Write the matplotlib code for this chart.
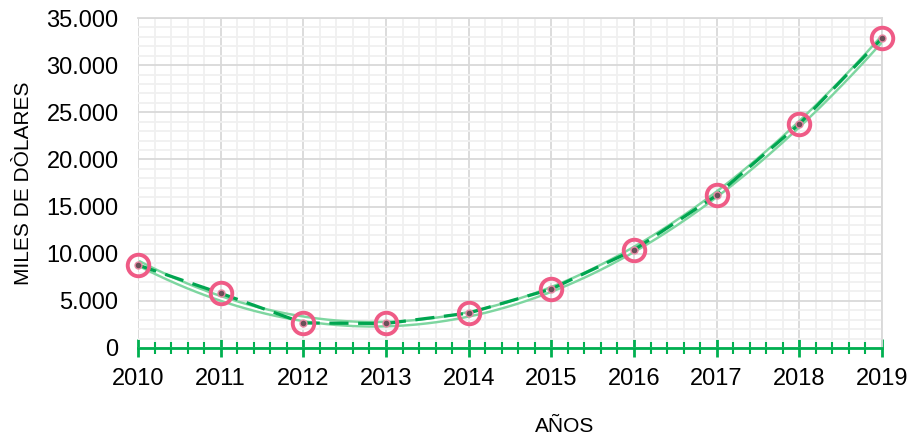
import numpy as np
import matplotlib.pyplot as plt
from matplotlib.ticker import MultipleLocator, FuncFormatter

plt.rcParams['font.family'] = ['Liberation Sans', 'DejaVu Sans']

years = [2010, 2011, 2012, 2013, 2014, 2015, 2016, 2017, 2018, 2019]
valores = [8800, 5800, 2650, 2600, 3700, 6250, 10400, 16200, 23750, 32850]

fig = plt.figure(figsize=(9.12, 4.38), dpi=100)
ax = fig.add_axes([0.1513, 0.2055, 0.8158, 0.7534])

# polynomial trend (order 2)
coef = np.polyfit(years, valores, 2)
xs = np.linspace(years[0], years[-1], 300)
ys = np.polyval(coef, xs)
ax.plot(xs, ys, color='#7ED6A0', lw=5, zorder=3, solid_capstyle='butt')
ax.plot(xs, ys, color='white', lw=1.5, zorder=3.1)

ax.plot(years, valores, color='#00A550', lw=2.3, dashes=(6, 3), zorder=4)
ax.plot(years, valores, 'o', ms=15.5, mfc='none', mec='#EF5B86', mew=2.8, zorder=5, clip_on=False)
ax.plot(years, valores, 'o', ms=5, mfc='#6A5058', mec='#E888A4', mew=1, zorder=5, clip_on=False)

ax.set_xlim(2010, 2019)
ax.set_ylim(0, 35000)
ax.xaxis.set_major_locator(MultipleLocator(1))
ax.xaxis.set_minor_locator(MultipleLocator(0.2))
ax.yaxis.set_major_locator(MultipleLocator(5000))
ax.yaxis.set_minor_locator(MultipleLocator(1000))
ax.yaxis.set_major_formatter(FuncFormatter(lambda v, p: '0' if v == 0 else f'{int(v):,}'.replace(',', '.')))

ax.grid(which='major', color='#D9D9D9', lw=1.3, zorder=1)
ax.grid(which='minor', color='#F0F0F0', lw=1.3, zorder=0.5)
ax.set_axisbelow(True)

for s in ['top', 'right']:
    ax.spines[s].set_color('#D9D9D9')
    ax.spines[s].set_linewidth(1.3)
ax.spines['left'].set_visible(False)
ax.spines['bottom'].set_color('#00B050')
ax.spines['bottom'].set_linewidth(2)
ax.spines['bottom'].set_zorder(6)

ax.tick_params(axis='x', which='major', direction='inout', length=13, width=2,
               color='#00B050', labelsize=17, pad=8)
ax.tick_params(axis='x', which='minor', direction='inout', length=9, width=1.5,
               color='#00B050')
ax.tick_params(axis='y', which='both', length=0, labelsize=17, pad=14)

ax.set_ylabel('MILES DE DÒLARES', fontsize=15, labelpad=10)
fig.text(565 / 912, 1 - 427 / 438, 'AÑOS', fontsize=15, ha='center', va='center')

fig.savefig('out.png', dpi=100)
